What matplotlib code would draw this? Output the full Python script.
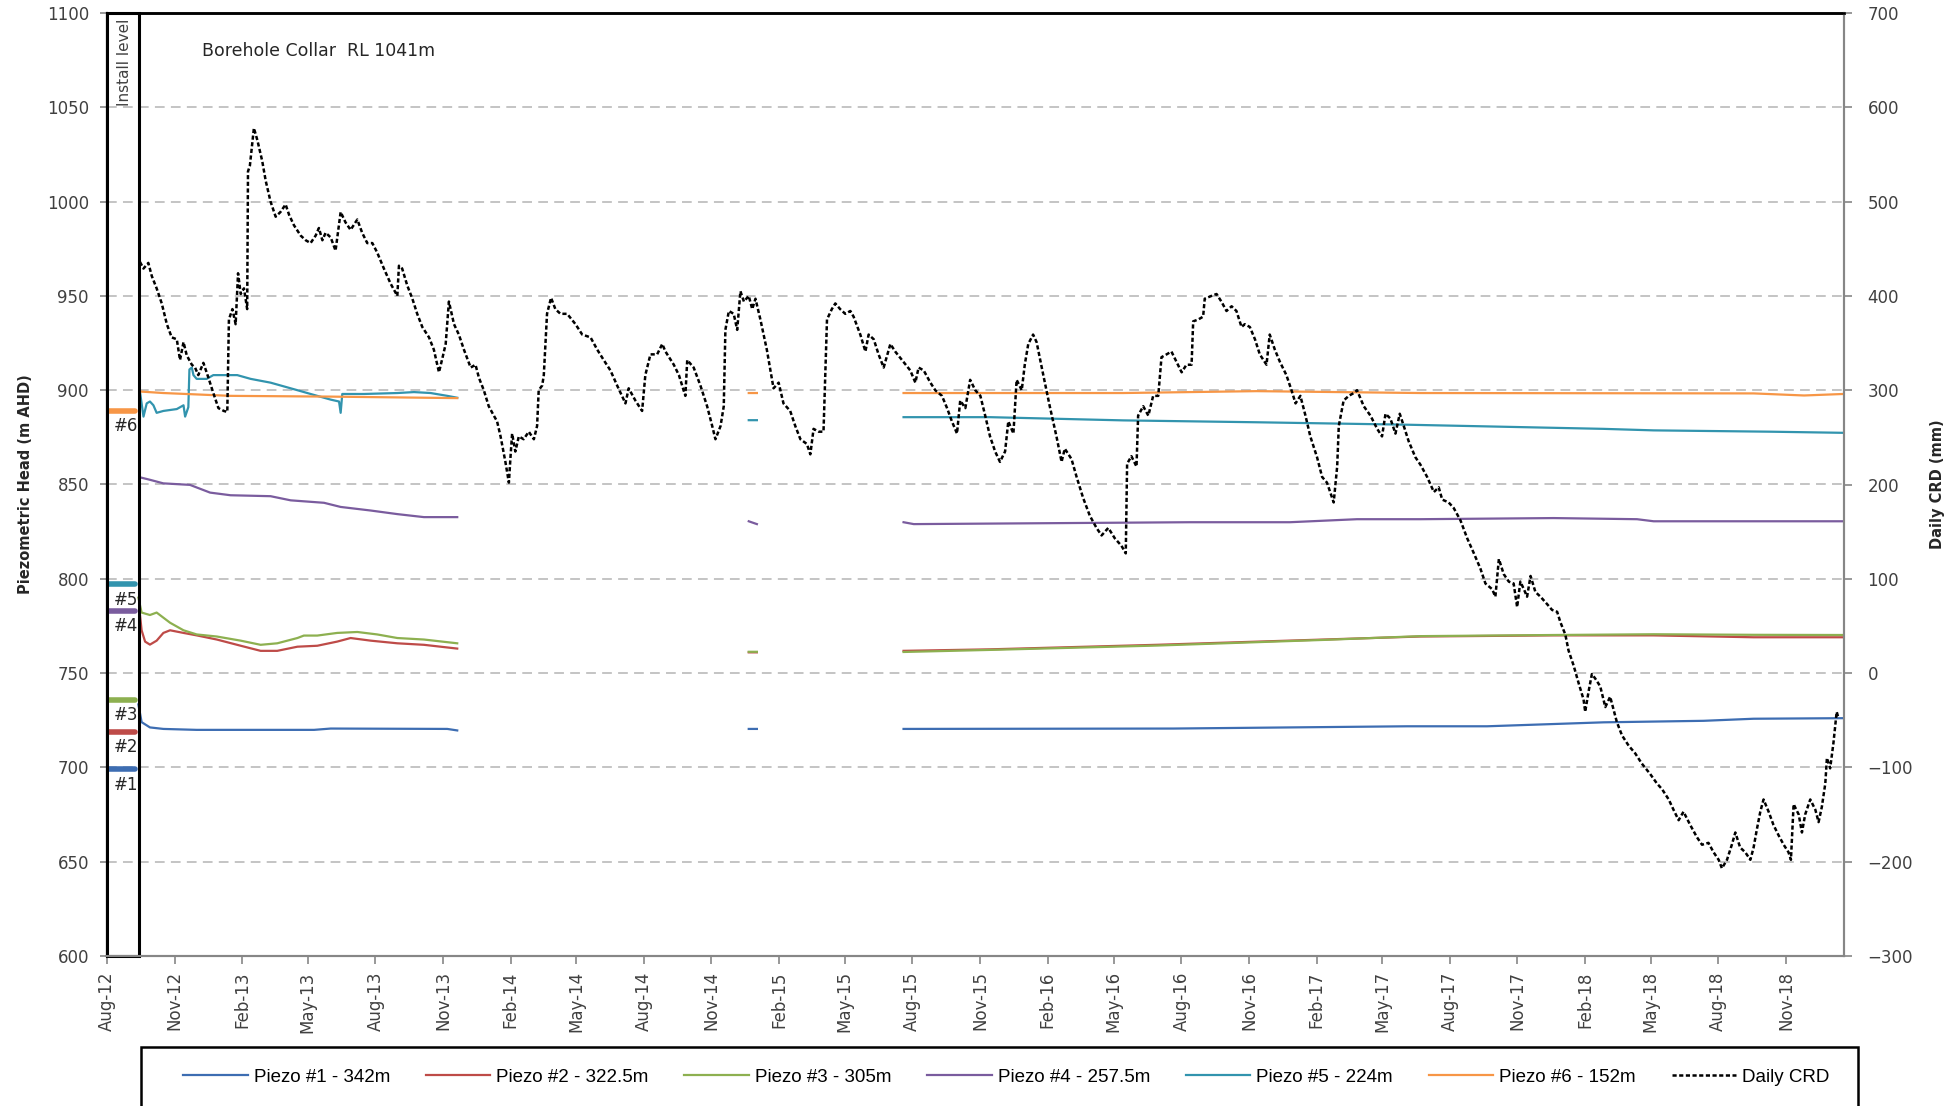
import numpy as np
import matplotlib
matplotlib.use("Agg")
import matplotlib.pyplot as plt
import matplotlib.dates as mdates
from matplotlib.patches import Rectangle
from datetime import datetime, timedelta

nan = np.nan

# ===========================
# DATA (decimal year, value)
# ===========================
crd_t = [2012.706, 2012.719, 2012.737, 2012.750, 2012.768, 2012.787, 2012.806, 2012.824, 2012.843, 2012.855,
         2012.868, 2012.880, 2012.899, 2012.911, 2012.923, 2012.942, 2012.961, 2012.979, 2012.998, 2013.016,
         2013.029, 2013.035, 2013.048, 2013.060, 2013.069, 2013.079, 2013.091, 2013.103, 2013.106, 2013.113,
         2013.128, 2013.141, 2013.159, 2013.172, 2013.190, 2013.209, 2013.227, 2013.246, 2013.259, 2013.277,
         2013.302, 2013.321, 2013.339, 2013.358, 2013.370, 2013.383, 2013.395, 2013.414, 2013.432, 2013.451,
         2013.469, 2013.488, 2013.513, 2013.531, 2013.550, 2013.569, 2013.587, 2013.612, 2013.637, 2013.662,
         2013.668, 2013.680, 2013.699, 2013.718, 2013.736, 2013.755, 2013.780, 2013.798, 2013.817, 2013.829,
         2013.842, 2013.854, 2013.873, 2013.891, 2013.910, 2013.935, 2013.953, 2013.966, 2013.984, 2014.003,
         2014.022, 2014.034, 2014.047, 2014.065, 2014.078, 2014.084, 2014.090, 2014.102, 2014.115, 2014.133,
         2014.152, 2014.171, 2014.183, 2014.189, 2014.202, 2014.208, 2014.220, 2014.235, 2014.251, 2014.270,
         2014.295, 2014.326, 2014.351, 2014.382, 2014.407, 2014.431, 2014.456, 2014.481, 2014.512, 2014.524,
         2014.549, 2014.574, 2014.586, 2014.605, 2014.630, 2014.649, 2014.661, 2014.692, 2014.711, 2014.735,
         2014.742, 2014.766, 2014.791, 2014.816, 2014.835, 2014.847, 2014.866, 2014.878, 2014.884, 2014.897,
         2014.915, 2014.928, 2014.940, 2014.953, 2014.971, 2014.984, 2014.996, 2015.015, 2015.039, 2015.064,
         2015.083, 2015.101, 2015.126, 2015.145, 2015.164, 2015.188, 2015.201, 2015.213, 2015.232, 2015.250,
         2015.263, 2015.281, 2015.294, 2015.312, 2015.331, 2015.350, 2015.362, 2015.387, 2015.406, 2015.418,
         2015.437, 2015.455, 2015.474, 2015.499, 2015.517, 2015.548, 2015.573, 2015.592, 2015.604, 2015.623,
         2015.648, 2015.666, 2015.691, 2015.710, 2015.728, 2015.747, 2015.759, 2015.778, 2015.796, 2015.815,
         2015.834, 2015.852, 2015.870, 2015.889, 2015.907, 2015.926, 2015.938, 2015.957, 2015.969, 2015.988,
         2016.000, 2016.013, 2016.031, 2016.044, 2016.069, 2016.093, 2016.118, 2016.137, 2016.149, 2016.174,
         2016.193, 2016.217, 2016.242, 2016.267, 2016.286, 2016.311, 2016.335, 2016.360, 2016.376, 2016.381,
         2016.397, 2016.416, 2016.422, 2016.441, 2016.460, 2016.478, 2016.497, 2016.509, 2016.528, 2016.546,
         2016.565, 2016.584, 2016.602, 2016.621, 2016.627, 2016.646, 2016.664, 2016.670, 2016.695, 2016.714,
         2016.732, 2016.751, 2016.770, 2016.788, 2016.807, 2016.819, 2016.838, 2016.857, 2016.875, 2016.900,
         2016.912, 2016.931, 2016.950, 2016.974, 2016.993, 2017.006, 2017.024, 2017.043, 2017.061, 2017.086,
         2017.105, 2017.123, 2017.148, 2017.161, 2017.167, 2017.185, 2017.204, 2017.223, 2017.235, 2017.260,
         2017.285, 2017.310, 2017.328, 2017.341, 2017.359, 2017.378, 2017.394, 2017.409, 2017.427, 2017.452,
         2017.471, 2017.496, 2017.521, 2017.539, 2017.552, 2017.576, 2017.595, 2017.620, 2017.645, 2017.670,
         2017.694, 2017.713, 2017.738, 2017.750, 2017.763, 2017.781, 2017.800, 2017.818, 2017.831, 2017.843,
         2017.856, 2017.868, 2017.881, 2017.899, 2017.918, 2017.943, 2017.961, 2017.980, 2017.992, 2018.011,
         2018.023, 2018.042, 2018.061, 2018.079, 2018.085, 2018.098, 2018.110, 2018.123, 2018.141, 2018.160,
         2018.178, 2018.191, 2018.203, 2018.222, 2018.247, 2018.271, 2018.296, 2018.327, 2018.352, 2018.371,
         2018.396, 2018.414, 2018.433, 2018.451, 2018.476, 2018.501, 2018.520, 2018.544, 2018.563, 2018.582,
         2018.594, 2018.613, 2018.631, 2018.644, 2018.662, 2018.681, 2018.700, 2018.712, 2018.724, 2018.737,
         2018.749, 2018.768, 2018.786, 2018.805, 2018.824, 2018.842, 2018.851, 2018.861, 2018.880, 2018.892,
         2018.904, 2018.923, 2018.942, 2018.954, 2018.966, 2018.979, 2018.985, 2018.997, 2019.010, 2019.022,
         2019.028]
crd_v = [436, 429, 435, 421, 408, 392, 370, 356, 354, 332,
         351, 337, 327, 324, 316, 329, 313, 297, 281, 278,
         277, 375, 386, 370, 424, 402, 408, 386, 532, 538,
         578, 565, 543, 522, 500, 484, 489, 497, 486, 475,
         464, 459, 456, 464, 472, 459, 467, 462, 448, 489,
         478, 470, 481, 467, 456, 456, 446, 429, 413, 400,
         432, 429, 411, 397, 381, 367, 356, 343, 319, 333,
         349, 394, 370, 359, 343, 324, 327, 313, 300, 283,
         273, 267, 251, 224, 202, 229, 254, 235, 251, 248,
         256, 248, 262, 300, 305, 316, 381, 398, 386, 381,
         381, 370, 359, 356, 343, 332, 321, 305, 286, 302,
         289, 278, 316, 338, 338, 349, 341, 327, 316, 294,
         332, 324, 305, 283, 262, 248, 262, 283, 364, 384,
         381, 364, 405, 394, 400, 386, 397, 375, 343, 302,
         308, 286, 278, 262, 248, 243, 232, 259, 256, 256,
         375, 386, 392, 386, 381, 384, 378, 359, 341, 359,
         354, 338, 324, 349, 341, 330, 321, 308, 324, 321,
         308, 300, 294, 281, 267, 254, 289, 281, 311, 300,
         294, 273, 251, 235, 224, 235, 267, 254, 311, 300,
         327, 349, 359, 351, 316, 283, 251, 224, 238, 227,
         208, 186, 167, 154, 146, 154, 143, 135, 127, 222,
         230, 219, 273, 283, 273, 294, 294, 335, 338, 341,
         330, 319, 327, 327, 373, 375, 378, 397, 400, 402,
         394, 384, 389, 384, 367, 370, 367, 354, 338, 327,
         359, 343, 330, 316, 300, 286, 294, 273, 251, 229,
         208, 202, 181, 219, 262, 289, 294, 297, 300, 283,
         273, 259, 251, 275, 270, 254, 275, 262, 246, 229,
         221, 208, 192, 197, 184, 181, 175, 162, 143, 127,
         111, 95, 89, 81, 121, 105, 97, 95, 70, 97,
         89, 81, 103, 86, 81, 73, 67, 65, 54, 41,
         24, 8, -11, -28, -41, -19, -1, -6, -14, -36,
         -25, -39, -52, -66, -77, -85, -96, -107, -117, -123,
         -134, -145, -156, -147, -161, -174, -182, -180, -190, -198,
         -207, -198, -182, -169, -185, -190, -198, -185, -166, -147,
         -134, -147, -161, -172, -182, -190, -198, -139, -150, -169,
         -150, -134, -145, -158, -142, -117, -90, -101, -74, -41,
         -47]

p1_t = [2012.700, 2012.712, 2012.743, 2012.793, 2012.917, 2013.352, 2013.414, 2013.848, 2013.885, 2014.400,
        2014.971, 2015.002, 2015.300, 2015.548, 2016.553, 2017.421, 2017.719, 2018.154, 2018.526, 2018.712,
        2019.047]
p1_v = [733.4, 724.0, 721.2, 720.4, 719.9, 719.9, 720.6, 720.4, 719.6, nan,
        720.4, 720.4, nan, 720.4, 720.6, 721.8, 721.8, 723.9, 724.7, 725.8,
        726.1]

p2_t = [2012.704, 2012.712, 2012.725, 2012.743, 2012.768, 2012.793, 2012.818, 2012.868, 2012.917, 2012.992,
        2013.079, 2013.153, 2013.215, 2013.290, 2013.364, 2013.438, 2013.488, 2013.563, 2013.662, 2013.761,
        2013.885, 2014.400, 2014.971, 2015.002, 2015.300, 2015.548, 2015.870, 2016.491, 2017.111, 2017.471,
        2017.967, 2018.340, 2018.712, 2019.047]
p2_v = [783.5, 772.7, 766.7, 765.1, 767.2, 771.3, 772.7, 771.3, 770.0, 767.8,
        764.5, 761.8, 761.8, 764.0, 764.5, 766.7, 768.6, 767.2, 765.8, 765.0,
        763.0, nan, 761.0, 761.0, nan, 761.8, 762.6, 765.0, 767.8, 769.4,
        770.0, 770.0, 769.0, 769.0]

p3_t = [2012.700, 2012.712, 2012.743, 2012.768, 2012.818, 2012.868, 2012.917, 2012.992, 2013.079, 2013.153,
        2013.215, 2013.290, 2013.314, 2013.364, 2013.438, 2013.513, 2013.587, 2013.662, 2013.761, 2013.885,
        2014.400, 2014.971, 2015.002, 2015.300, 2015.548, 2015.870, 2016.491, 2017.111, 2017.471, 2017.967,
        2018.340, 2018.712, 2019.047]
p3_v = [790.0, 782.1, 780.8, 782.1, 776.7, 772.7, 770.5, 769.4, 767.2, 765.0,
        765.8, 768.6, 769.9, 769.9, 771.3, 771.8, 770.5, 768.6, 767.8, 765.8,
        nan, 761.3, 761.3, nan, 761.2, 762.3, 764.6, 767.6, 769.6, 770.2,
        770.6, 770.3, 770.2]

p4_t = [2012.706, 2012.743, 2012.793, 2012.892, 2012.967, 2013.041, 2013.190, 2013.265, 2013.389, 2013.451,
        2013.563, 2013.662, 2013.761, 2013.885, 2014.400, 2014.971, 2015.002, 2015.300, 2015.548, 2015.586,
        2016.615, 2016.987, 2017.235, 2017.471, 2017.967, 2018.278, 2018.340, 2019.047]
p4_v = [853.8, 852.5, 850.6, 849.8, 845.7, 844.3, 843.8, 841.6, 840.3, 838.1,
        836.2, 834.3, 832.7, 832.7, nan, 830.5, 829.0, nan, 830.0, 829.0,
        830.0, 830.0, 831.6, 831.6, 832.2, 831.6, 830.5, 830.5]

p5_t = [2012.706, 2012.719, 2012.731, 2012.743, 2012.756, 2012.768, 2012.793, 2012.843, 2012.868, 2012.874,
        2012.886, 2012.890, 2012.899, 2012.905, 2012.917, 2012.954, 2012.979, 2013.016, 2013.066, 2013.116,
        2013.190, 2013.290, 2013.339, 2013.364, 2013.414, 2013.445, 2013.451, 2013.457, 2013.538, 2013.662,
        2013.724, 2013.786, 2013.848, 2013.885, 2014.400, 2014.971, 2015.002, 2015.300, 2015.548, 2015.870,
        2016.366, 2016.863, 2017.421, 2018.154, 2018.340, 2018.774, 2019.047]
p5_v = [899, 886, 893, 894, 892, 888, 889, 890, 892, 886,
        891, 911, 912, 908, 906, 906, 908, 908, 908, 906,
        904, 900, 898, 897, 895, 894, 888, 898, 898, 898.5,
        899, 898.5, 897, 896, nan, 884.1, 884.1, nan, 885.7, 885.7,
        884, 883, 881.7, 879.5, 878.7, 878, 877.4]

p6_t = [2012.706, 2012.793, 2013.041, 2013.414, 2013.885, 2014.400, 2014.971, 2015.002, 2015.300, 2015.548,
        2016.366, 2016.863, 2017.471, 2018.712, 2018.900, 2019.047]
p6_v = [899.3, 898.5, 897.0, 896.6, 895.8, nan, 898.5, 898.5, nan, 898.5,
        898.5, 899.5, 898.5, 898.3, 897.2, 898.0]

labels = ["Piezo #1 - 342m", "Piezo #2 - 322.5m", "Piezo #3 - 305m",
          "Piezo #4 - 257.5m", "Piezo #5 - 224m", "Piezo #6 - 152m"]
colors = ["#3D6DB2", "#BE4B48", "#8DB050", "#7A5C9E", "#3294AE", "#F79646"]

# install levels (m AHD)
inst_levels = [699, 719, 736, 783, 797, 889]
inst_names = ["#1", "#2", "#3", "#4", "#5", "#6"]


def to_date(y):
    y0 = int(y)
    return datetime(y0, 1, 1) + timedelta(days=(y - y0) * 365.25)


plt.rcParams["lines.scale_dashes"] = False
plt.rcParams["font.family"] = "DejaVu Sans"

fig = plt.figure(figsize=(19.52, 11.06), dpi=100)
ax = fig.add_axes([107 / 1952, 1 - 956 / 1106, (1844 - 107) / 1952, (956 - 13) / 1106])
ax2 = ax.twinx()

# ===========================
# Piezo lines
# ===========================
series = [(p1_t, p1_v), (p2_t, p2_v), (p3_t, p3_v), (p4_t, p4_v), (p5_t, p5_v), (p6_t, p6_v)]
handles = []
for (t, v), c, lab in zip(series, colors, labels):
    h, = ax.plot([to_date(x) for x in t], v, color=c, lw=1.6, label=lab, zorder=3)
    handles.append(h)

# CRD on secondary axis
hc, = ax2.plot([to_date(x) for x in crd_t], crd_v, color="black", lw=1.8,
               dashes=(3.0, 1.8), label="Daily CRD")
handles.append(hc)

# ===========================
# Install level box + markers
# ===========================
box_start = datetime(2012, 8, 1)
box_end = to_date(2012.702)
x0 = mdates.date2num(box_start)
x1 = mdates.date2num(box_end)
ax.add_patch(Rectangle((x0, 600), x1 - x0, 500, fill=False, ec="black", lw=2.2, zorder=5, clip_on=False))
ax.text(mdates.date2num(to_date(2012.650)), 1097, "Install level", rotation=90, ha="center", va="top",
        fontsize=11, color="#404040", zorder=6)

for lvl, name, c in zip(inst_levels, inst_names, colors):
    ax.plot([to_date(2012.588), to_date(2012.686)], [lvl, lvl], color=c, lw=4,
            solid_capstyle="round", zorder=4)
    ax.annotate(name, (mdates.date2num(to_date(2012.655)), lvl), xytext=(0, -11),
                textcoords="offset points", ha="center", va="center", fontsize=12, color="#262626")

ax.text(mdates.date2num(to_date(2012.937)), 1080, "Borehole Collar  RL 1041m", ha="left", va="center",
        fontsize=12.5, color="#262626")

# ===========================
# Axes formatting
# ===========================
ax.set_xlim(datetime(2012, 8, 1), datetime(2019, 1, 19))
ax.set_ylim(600, 1100)
ax.set_yticks(np.arange(600, 1101, 50))
ax2.set_ylim(-300, 700)
ax2.set_yticks(np.arange(-300, 701, 100))

xt = [datetime(2012 + (7 + 3 * i) // 12, (7 + 3 * i) % 12 + 1, 1) for i in range(26)]
ax.set_xticks(xt)
ax.xaxis.set_major_formatter(mdates.DateFormatter("%b-%y"))

ax.yaxis.grid(True, color="#BFBFBF", lw=1.3, dashes=(7, 4.5))
ax.set_axisbelow(True)

tick_col = "#868686"
ax.tick_params(axis="y", direction="out", length=5, width=1.2, color=tick_col,
               labelsize=12, labelcolor="#404040", pad=8)
ax.tick_params(axis="x", direction="out", length=6, width=1.2, color=tick_col,
               labelsize=12, labelcolor="#404040", labelrotation=90, pad=5)
ax2.tick_params(axis="y", direction="out", length=6, width=1.2, color=tick_col,
                labelsize=12, labelcolor="#404040", pad=11)

for a in (ax, ax2):
    a.spines["top"].set_color("black")
    a.spines["top"].set_linewidth(1.8)
    a.spines["bottom"].set_color(tick_col)
    a.spines["bottom"].set_linewidth(1.5)
    a.spines["right"].set_color(tick_col)
    a.spines["right"].set_linewidth(1.5)
    a.spines["left"].set_color("black")
    a.spines["left"].set_linewidth(1.5)

ax.set_ylabel("Piezometric Head (m AHD)", fontsize=10.5, fontweight="bold", color="#262626", labelpad=10)
ax2.set_ylabel("Daily CRD (mm)", fontsize=10.5, fontweight="bold", color="#262626", labelpad=12)

# ===========================
# Legend
# ===========================
fig.add_artist(Rectangle((141 / 1952, -0.02), 1717 / 1952, (1106 - 1047) / 1106 + 0.02,
                         transform=fig.transFigure, fill=False, ec="black", lw=1.8))
fig.legend(handles, [h.get_label() for h in handles], loc="center", bbox_to_anchor=(0.5155, 1 - 1077 / 1106),
           ncol=7, frameon=False, prop={"family": "Liberation Sans", "size": 13.5},
           handlelength=3.45, handletextpad=0.32, columnspacing=1.9)

fig.savefig("out.png", dpi=100)
